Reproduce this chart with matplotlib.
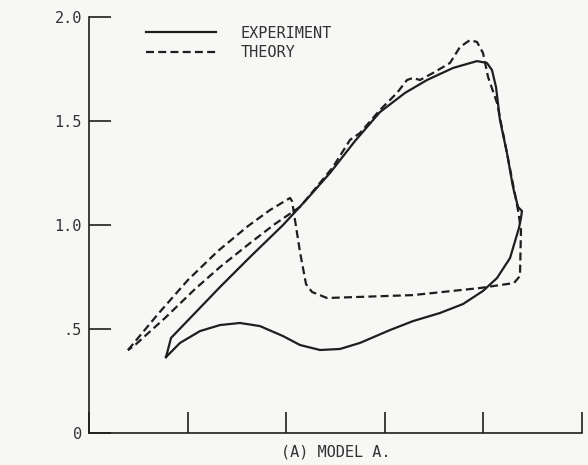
import matplotlib
matplotlib.use("Agg")
from matplotlib import pyplot as plt

# measured loop (solid) and predicted loop (dashed), one closed path each
exp_x = [0.781, 0.832, 1.329, 1.633, 1.968, 2.211, 2.444, 2.698, 2.951, 3.205, 3.428, 3.692,
         3.935, 4.036, 4.087, 4.128, 4.168, 4.239, 4.300, 4.351, 4.391, 4.381, 4.361, 4.270,
         4.138, 3.996, 3.793, 3.560, 3.286, 3.053, 2.748, 2.546, 2.343, 2.140, 1.968, 1.734,
         1.531, 1.329, 1.126, 0.923, 0.781]
exp_y = [0.365, 0.457, 0.702, 0.846, 1.000, 1.125, 1.250, 1.404, 1.543, 1.635, 1.697, 1.755,
         1.788, 1.779, 1.745, 1.663, 1.505, 1.346, 1.183, 1.087, 1.067, 1.034, 0.986, 0.841,
         0.745, 0.683, 0.620, 0.577, 0.538, 0.495, 0.433, 0.404, 0.399, 0.423, 0.466, 0.514,
         0.529, 0.519, 0.490, 0.433, 0.365]

theory_x = [0.396, 0.700, 1.004, 1.308, 1.613, 1.836, 2.039, 2.059, 2.140, 2.201, 2.262, 2.414,
            3.286, 3.966, 4.310, 4.371, 4.381, 4.351, 4.239, 4.138, 4.047, 3.996, 3.935, 3.864,
            3.763, 3.661, 3.489, 3.357, 3.286, 3.225, 3.124, 2.951, 2.748, 2.647, 2.475, 2.241,
            2.140, 1.886, 1.633, 1.329, 1.075, 0.771, 0.467, 0.396]
theory_y = [0.399, 0.572, 0.736, 0.875, 0.995, 1.072, 1.130, 1.115, 0.870, 0.716, 0.678, 0.649,
            0.663, 0.697, 0.721, 0.755, 0.976, 1.072, 1.346, 1.587, 1.712, 1.827, 1.880, 1.889,
            1.856, 1.779, 1.731, 1.697, 1.707, 1.697, 1.635, 1.553, 1.442, 1.409, 1.279, 1.144,
            1.087, 1.005, 0.913, 0.798, 0.692, 0.553, 0.423, 0.399]

y_ticks = [0, 0.5, 1.0, 1.5, 2.0]
y_tick_labels = ['0', '.5', '1.0', '1.5', '2.0']
x_ticks = [0, 1, 2, 3, 4, 5]

ink = '#1e1e1e'
paper = '#f7f7f5'
plt.rcParams['font.family'] = ['DejaVu Sans Mono']
plt.rcParams['font.size'] = 11

fig = plt.figure(figsize=(5.88, 4.65), dpi=100, facecolor=paper)
ax = fig.add_axes([89 / 588, 1 - 433 / 465, (582 - 89) / 588, (433 - 17) / 465])
ax.set_facecolor(paper)

ax.plot(exp_x, exp_y, color=ink, lw=1.6, solid_joinstyle='round', label='EXPERIMENT')
ax.plot(theory_x, theory_y, color=ink, lw=1.6, dashes=(3.6, 1.9), label='THEORY')

ax.set_xlim(0, 5)
ax.set_ylim(0, 2.0)
ax.set_xticks(x_ticks)
ax.set_yticks(y_ticks)
ax.set_yticklabels(y_tick_labels)
ax.tick_params(axis='x', direction='in', length=15, width=1.2, color=ink, labelbottom=False)
ax.tick_params(axis='y', direction='in', length=16, width=1.2, color=ink, pad=5, labelcolor='#333333')
for side in ('top', 'right'):
    ax.spines[side].set_visible(False)
for side in ('left', 'bottom'):
    ax.spines[side].set_color(ink)
    ax.spines[side].set_linewidth(1.2)

ax.set_xlabel('(A) MODEL A.', color='#333333', labelpad=8)

ax.legend(loc='upper left', bbox_to_anchor=(138 / 588, 1 - 18 / 465),
          bbox_transform=fig.transFigure, frameon=False, borderpad=0,
          handlelength=4.6, handletextpad=1.6, labelspacing=0.3,
          labelcolor='#333333')

fig.savefig('out.png', dpi=100, facecolor=paper)
